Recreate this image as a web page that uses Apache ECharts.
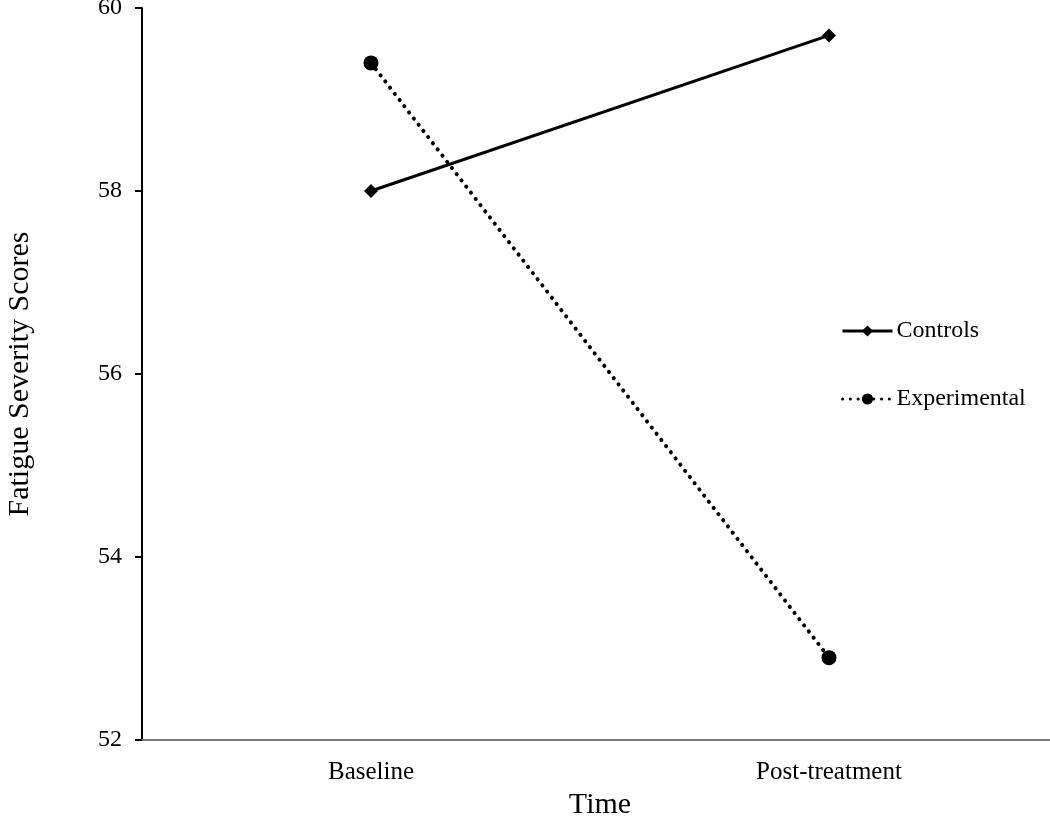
<!DOCTYPE html>
<html><head><meta charset="utf-8">
<script src="https://cdn.jsdelivr.net/npm/echarts@6/dist/echarts.min.js"></script>
<style>html,body{margin:0;padding:0;background:#fff}#c{width:1050px;height:816px}</style>
</head><body><div id="c"></div>
<script>
const categories = ['Baseline', 'Post-treatment'];
const controls = [58.0, 59.7];
const experimental = [59.4, 52.9];
const yTicks = { min: 52, max: 60, interval: 2 };

const font = '"Liberation Serif", "Times New Roman", serif';
const chart = echarts.init(document.getElementById('c'));
chart.setOption({
  animation: false,
  backgroundColor: '#fff',
  textStyle: { fontFamily: font, color: '#000' },
  grid: { left: 142, top: 8, width: 916, height: 732, containLabel: false, outerBoundsMode: 'none' },
  legend: {
    orient: 'vertical', left: 836, top: 314, itemWidth: 50, itemHeight: 14, itemGap: 44,
    lineStyle: { width: 3 },
    textStyle: { fontFamily: font, fontSize: 24, color: '#000', padding: [0, 0, 0, -1] },
    data: ['Controls', 'Experimental']
  },
  xAxis: {
    type: 'category', data: categories,
    name: 'Time', nameLocation: 'middle', nameGap: 50,
    nameTextStyle: { fontFamily: font, fontSize: 30, color: '#000' },
    axisLine: { lineStyle: { color: '#7a7a7a', width: 2 } },
    axisTick: { alignWithLabel: true, length: 7, lineStyle: { color: '#000', width: 2 } },
    axisLabel: { fontFamily: font, fontSize: 25, color: '#000', margin: 20 },
    splitLine: { show: false }
  },
  yAxis: {
    type: 'value', min: yTicks.min, max: yTicks.max, interval: yTicks.interval,
    name: 'Fatigue Severity Scores', nameLocation: 'middle', nameGap: 107, nameRotate: 90,
    nameTextStyle: { fontFamily: font, fontSize: 30, color: '#000' },
    axisLine: { show: true, lineStyle: { color: '#000', width: 2 } },
    axisTick: { show: true, length: 7, lineStyle: { color: '#000', width: 2 } },
    axisLabel: { fontFamily: font, fontSize: 24, color: '#000', margin: 20 },
    splitLine: { show: false }
  },
  series: [
    {
      name: 'Controls', type: 'line', data: controls,
      symbol: 'diamond', symbolSize: 14,
      itemStyle: { color: '#000' },
      lineStyle: { color: '#000', width: 3 }
    },
    {
      name: 'Experimental', type: 'line', data: experimental,
      symbol: 'circle', symbolSize: 15,
      itemStyle: { color: '#000' },
      lineStyle: { color: '#000', width: 4, type: [0.1, 7.7], cap: 'round' }
    }
  ]
});
</script></body></html>
